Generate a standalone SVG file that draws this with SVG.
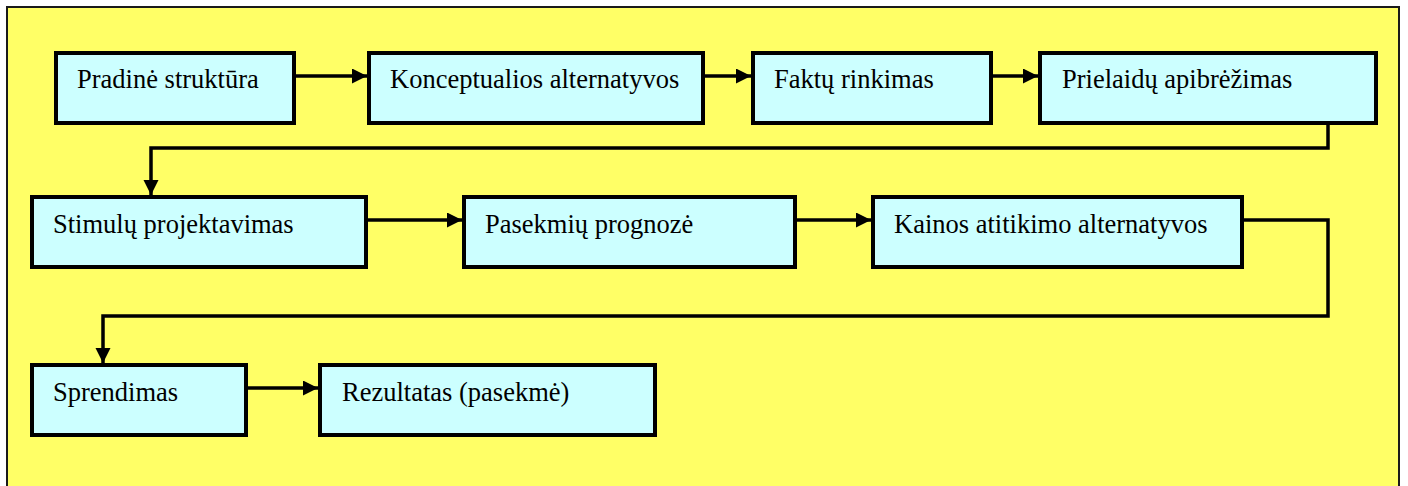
<svg xmlns="http://www.w3.org/2000/svg" width="1408" height="486" viewBox="0 0 1408 486">
  <style>
    .box { fill: #CCFFFF; stroke: #000; stroke-width: 4; }
    .label { font-family: "Liberation Serif", "Times New Roman", serif; font-size: 26.5px; fill: #000; }
    .link { fill: none; stroke: #000; stroke-width: 3.5; stroke-linejoin: miter; }
  </style>
  <defs>
    <marker id="arrow" markerUnits="userSpaceOnUse" markerWidth="16" markerHeight="16" refX="15" refY="7.5" orient="auto">
      <path d="M0,0 L15,7.5 L0,15 Z" fill="#000"/>
    </marker>
  </defs>

  <!-- page background and frame -->
  <rect x="0" y="0" width="1408" height="486" fill="#FFFFFF"/>
  <rect x="7" y="7" width="1392" height="490" fill="#FFFF66" stroke="#1a1a1a" stroke-width="2"/>

  <!-- connectors -->
  <g id="connectors">
    <path class="link" d="M296,76 H367" marker-end="url(#arrow)"/>
    <path class="link" d="M705,76 H751" marker-end="url(#arrow)"/>
    <path class="link" d="M993,76 H1038" marker-end="url(#arrow)"/>
    <path class="link" d="M1328,125 V148 H151 V195" marker-end="url(#arrow)"/>
    <path class="link" d="M368,220 H462" marker-end="url(#arrow)"/>
    <path class="link" d="M797,220 H871" marker-end="url(#arrow)"/>
    <path class="link" d="M1244,220 H1328 V316 H103 V363" marker-end="url(#arrow)"/>
    <path class="link" d="M248,388 H318" marker-end="url(#arrow)"/>
  </g>

  <!-- row 1 -->
  <g id="node-pradine">
    <rect class="box" x="56" y="53" width="238" height="70"/>
    <text class="label" x="77" y="88">Pradinė struktūra</text>
  </g>
  <g id="node-konceptualios">
    <rect class="box" x="369" y="53" width="334" height="70"/>
    <text class="label" x="390" y="88">Konceptualios alternatyvos</text>
  </g>
  <g id="node-faktu">
    <rect class="box" x="753" y="53" width="238" height="70"/>
    <text class="label" x="774" y="88">Faktų rinkimas</text>
  </g>
  <g id="node-prielaidu">
    <rect class="box" x="1040" y="53" width="336" height="70"/>
    <text class="label" x="1062" y="88">Prielaidų apibrėžimas</text>
  </g>

  <!-- row 2 -->
  <g id="node-stimulu">
    <rect class="box" x="32" y="197" width="334" height="70"/>
    <text class="label" x="53" y="233">Stimulų projektavimas</text>
  </g>
  <g id="node-pasekmiu">
    <rect class="box" x="464" y="197" width="331" height="70"/>
    <text class="label" x="485" y="233">Pasekmių prognozė</text>
  </g>
  <g id="node-kainos">
    <rect class="box" x="873" y="197" width="369" height="70"/>
    <text class="label" x="894" y="233">Kainos atitikimo alternatyvos</text>
  </g>

  <!-- row 3 -->
  <g id="node-sprendimas">
    <rect class="box" x="32" y="365" width="214" height="70"/>
    <text class="label" x="53" y="401">Sprendimas</text>
  </g>
  <g id="node-rezultatas">
    <rect class="box" x="320" y="365" width="335" height="70"/>
    <text class="label" x="342" y="401">Rezultatas (pasekmė)</text>
  </g>
</svg>
